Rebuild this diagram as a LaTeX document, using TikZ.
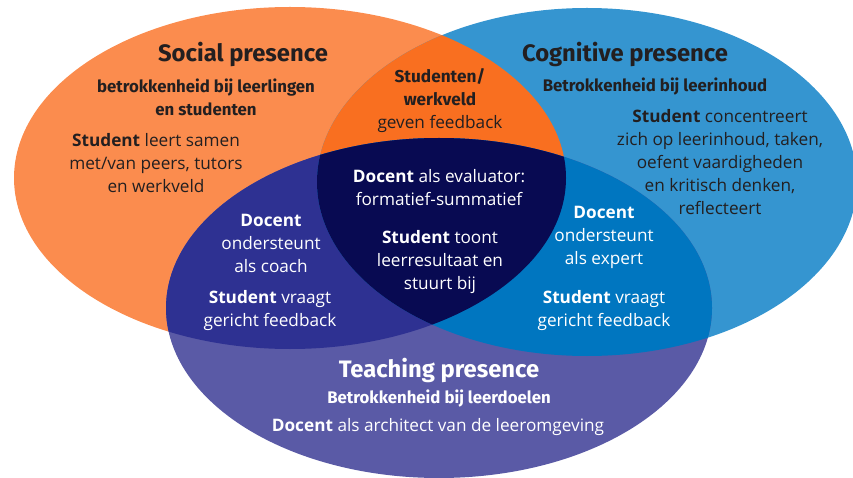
\documentclass[tikz,border=0pt]{standalone}
\usepackage{fontspec}
\setmainfont{Open Sans}
\newfontfamily\fira{Fira Sans}
\definecolor{orL}{HTML}{FB8C4E}
\definecolor{orD}{HTML}{F96F20}
\definecolor{blL}{HTML}{3595D0}
\definecolor{blD}{HTML}{0076C0}
\definecolor{puL}{HTML}{5A5AA6}
\definecolor{puD}{HTML}{2E3192}
\definecolor{navy}{HTML}{080A52}
\definecolor{ink}{HTML}{231F20}
\tikzset{
  bodytxt/.style={align=center, inner sep=0pt, yshift=-2.5pt, font=\fontsize{17.2}{23}\selectfont},
  ttl/.style={align=center, inner sep=0pt, yshift=-2pt, font=\fira\bfseries\fontsize{23.8}{27}\selectfont},
  subttl/.style={align=center, inner sep=0pt, yshift=-2pt, font=\fira\bfseries\fontsize{16.8}{22.5}\selectfont},
}
\newcommand{\fb}[1]{{\fira\bfseries #1}}
\begin{document}
\begin{tikzpicture}[x=1pt,y=-1pt]
\useasboundingbox (0,0) rectangle (853,478);
\def\ellO{(290,178) ellipse [x radius=276pt, y radius=171pt]}
\def\ellB{(587,182) ellipse [x radius=270pt, y radius=174pt]}
\def\ellP{(439,308) ellipse [x radius=273pt, y radius=170pt]}
\fill[orL] \ellO;
\fill[blL] \ellB;
\fill[puL] \ellP;
\begin{scope}\clip \ellO; \fill[orD] \ellB; \end{scope}
\begin{scope}\clip \ellO; \fill[puD] \ellP; \end{scope}
\begin{scope}\clip \ellB; \fill[blD] \ellP; \end{scope}
\begin{scope}\clip \ellO; \clip \ellB; \fill[navy] \ellP; \end{scope}

% Social presence
\node[ttl, text=ink] (st) at (243,52) {Social presence};
\node[subttl, text=ink] (ss) at (206,95.5) {betrokkenheid bij leerlingen\\en studenten};
\node[bodytxt, text=ink] (sb) at (156,160.5) {\textbf{Student} leert samen\\met/van peers, tutors\\en werkveld};

% Cognitive presence
\node[ttl, text=ink] (ct) at (625,52) {Cognitive presence};
\node[subttl, text=ink] (cs) at (655,85) {Betrokkenheid bij leerinhoud};
\node[bodytxt, text=ink] (cb) at (720,160) {\textbf{Student} concentreert\\zich op leerinhoud, taken,\\oefent vaardigheden\\en kritisch denken,\\reflecteert};

% Orange-blue overlap
\node[bodytxt, text=ink] (ob) at (440,98.5) {\fb{Studenten/}\\\fb{werkveld}\\geven feedback};

% Centre
\node[bodytxt, text=white] (c1) at (439,185) {\textbf{Docent} als evaluator:\\formatief-summatief};
\node[bodytxt, text=white] (c2) at (440,260) {\textbf{Student} toont\\leerresultaat en\\stuurt bij};

% Orange-purple overlap
\node[bodytxt, text=white] (l1) at (271,240.5) {\textbf{Docent}\\ondersteunt\\als coach};
\node[bodytxt, text=white] (l2) at (270,308.5) {\textbf{Student} vraagt\\gericht feedback};

% Blue-purple overlap
\node[bodytxt, text=white] (r1) at (604,234.5) {\textbf{Docent}\\ondersteunt\\als expert};
\node[bodytxt, text=white] (r2) at (604,308.5) {\textbf{Student} vraagt\\gericht feedback};

% Teaching presence
\node[ttl, text=white] (tt) at (439,368) {Teaching presence};
\node[subttl, text=white] (ts) at (439,397) {Betrokkenheid bij leerdoelen};
\node[bodytxt, text=white] (tb) at (438,425) {\textbf{Docent} als architect van de leeromgeving};
\end{tikzpicture}
\end{document}
